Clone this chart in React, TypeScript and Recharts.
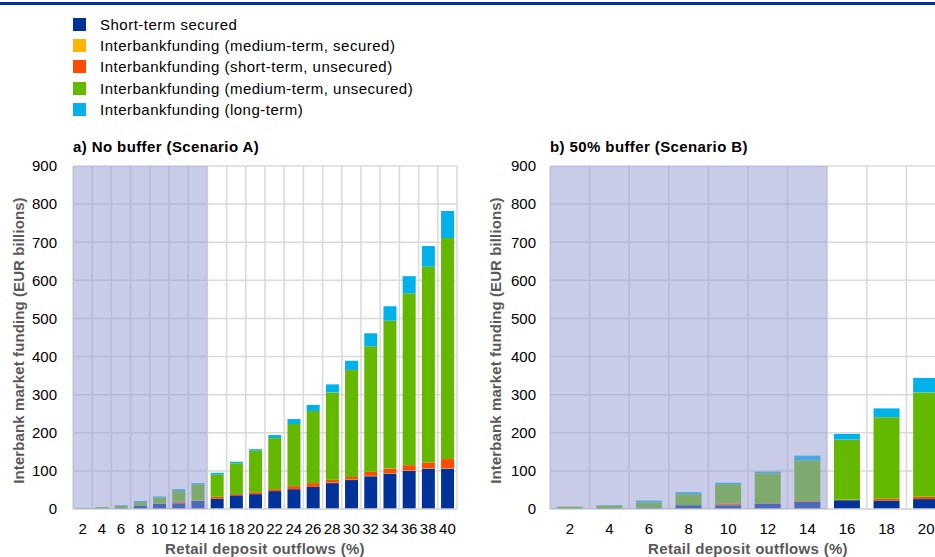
import { BarChart, Bar, XAxis, YAxis, CartesianGrid, ReferenceArea, Legend } from 'recharts'

// Retail deposit outflows (%), x categories
const outflowsA = [2, 4, 6, 8, 10, 12, 14, 16, 18, 20, 22, 24, 26, 28, 30, 32, 34, 36, 38, 40]
const outflowsB = [2, 4, 6, 8, 10, 12, 14, 16, 18, 20]

// a) No buffer (Scenario A), EUR billions
const shortSecuredA = [1, 1, 4, 9, 14, 15, 21, 27, 36, 39, 47, 52, 58, 68, 76, 86, 93, 100, 106, 106]
const mediumSecuredA = [0, 0, 0, 0, 0, 0, 0, 0, 0, 0, 0, 0, 0, 1, 1, 1, 1, 1, 1, 1]
const shortUnsecuredA = [0, 0, 0, 0, 0, 4, 1, 5, 3, 5, 5, 8, 10, 8, 7, 11, 12, 14, 15, 24]
const mediumUnsecuredA = [2, 4, 5, 9, 16, 28, 42, 58, 81, 109, 134, 163, 189, 229, 281, 329, 388, 451, 514, 580]
const longTermA = [0, 0, 1, 3, 3, 5, 4, 5, 4, 4, 8, 13, 16, 21, 24, 34, 38, 45, 54, 71]

// b) 50% buffer (Scenario B), EUR billions
const shortSecuredB = [1, 3, 4, 10, 10, 14, 19, 23, 22, 26]
const mediumSecuredB = [0, 0, 0, 0, 0, 0, 0, 0, 0, 0]
const shortUnsecuredB = [0, 0, 0, 0, 5, 1, 2, 1, 5, 6]
const mediumUnsecuredB = [5, 6, 13, 29, 50, 79, 106, 158, 214, 274]
const longTermB = [0, 1, 5, 5, 4, 4, 13, 15, 23, 38]

const yTicks = [0, 100, 200, 300, 400, 500, 600, 700, 800, 900]

const SERIES = [
  { key: 'shortSecured', name: 'Short-term secured', color: '#003299' },
  { key: 'mediumSecured', name: 'Interbankfunding (medium-term, secured)', color: '#FFB400' },
  { key: 'shortUnsecured', name: 'Interbankfunding (short-term, unsecured)', color: '#FF4B00' },
  { key: 'mediumUnsecured', name: 'Interbankfunding (medium-term, unsecured)', color: '#65B800' },
  { key: 'longTerm', name: 'Interbankfunding (long-term)', color: '#00B1EA' },
]

const dataA = outflowsA.map((x, i) => ({
  x,
  shortSecured: shortSecuredA[i],
  mediumSecured: mediumSecuredA[i],
  shortUnsecured: shortUnsecuredA[i],
  mediumUnsecured: mediumUnsecuredA[i],
  longTerm: longTermA[i],
}))

const dataB = outflowsB.map((x, i) => ({
  x,
  shortSecured: shortSecuredB[i],
  mediumSecured: mediumSecuredB[i],
  shortUnsecured: shortUnsecuredB[i],
  mediumUnsecured: mediumUnsecuredB[i],
  longTerm: longTermB[i],
}))

const FONT = '"Liberation Sans", Arial, sans-serif'
const LABEL_GREY = '#595959'
const GRID = '#d9d9d9'

const seriesIndex = (name: string) => SERIES.findIndex((s) => s.name === name)

function renderLegend(props: any) {
  // keep the series order (bottom of stack first), not alphabetical
  const items = [...(props.payload || [])].sort((a: any, b: any) => seriesIndex(a.value) - seriesIndex(b.value))
  return (
    <div>
      {items.map((p: any) => (
        <div key={p.value} style={{ display: 'flex', alignItems: 'center', height: 21.3, fontSize: 15, letterSpacing: 0.5, color: '#000', whiteSpace: 'nowrap' }}>
          <span style={{ width: 13, height: 13, background: p.color, marginRight: 14, flexShrink: 0 }} />
          <span>{p.value}</span>
        </div>
      ))}
    </div>
  )
}

const yLabel = (x: number, fallbackCy: number) => (props: any) => {
  const vb = props.viewBox || {}
  const cy = vb.y !== undefined ? vb.y + vb.height / 2 + 3 : fallbackCy
  return (
    <text
      x={x}
      y={cy}
      transform={`rotate(-90 ${x} ${cy})`}
      textAnchor="middle"
      fontSize={15}
      fontWeight="bold"
      fill={LABEL_GREY}
      letterSpacing={0.1}
    >
      Interbank market funding (EUR billions)
    </text>
  )
}

const xLabel = (props: any) => {
  const vb = props.viewBox || {}
  return (
    <text
      x={vb.x + vb.width / 2}
      y={vb.y + vb.height - 3}
      textAnchor="middle"
      fontSize={15}
      fontWeight="bold"
      fill={LABEL_GREY}
      letterSpacing={0.3}
    >
      Retail deposit outflows (%)
    </text>
  )
}

const boundaryLines = (n: number) => ({ offset }: any) =>
  Array.from({ length: n + 1 }, (_, i) => offset.left + (i * offset.width) / n)

function Panel({ data, width, yAxisWidth, tickMargin, labelX, legend }: any) {
  return (
    <BarChart
      width={width}
      height={557}
      data={data}
      margin={{ top: 166, right: width === 470 ? 13 : 0, left: 0, bottom: 0 }}
      barCategoryGap="17%"
    >
      <CartesianGrid stroke={GRID} strokeWidth={1.5} verticalCoordinatesGenerator={boundaryLines(data.length)} />
      <XAxis
        dataKey="x"
        type="category"
        interval={0}
        height={48}
        tickLine={false}
        axisLine={{ stroke: GRID, strokeWidth: 1.5 }}
        tickSize={6}
        tickMargin={8}
        tick={{ fontSize: 15, fill: '#000' }}
        label={{ content: xLabel }}
      />
      <YAxis
        domain={[0, 900]}
        ticks={yTicks}
        interval={0}
        width={yAxisWidth}
        tickLine={false}
        axisLine={false}
        tickSize={6}
        tickMargin={tickMargin}
        tick={{ fontSize: 15, fill: '#000' }}
        label={{ content: yLabel(labelX, 340) }}
      />
      {legend && (
        <Legend
          layout="horizontal"
          verticalAlign="middle"
          align="center"
          content={renderLegend}
          wrapperStyle={{ top: 13.5, left: 73, width: 420 }}
        />
      )}
      {SERIES.map((s) => (
        <Bar key={s.key} dataKey={s.key} name={s.name} stackId="a" fill={s.color} isAnimationActive={false} />
      ))}
      <ReferenceArea x1={2} x2={14} fill="rgb(150,158,210)" fillOpacity={0.52} stroke="none" ifOverflow="visible" zIndex={1500} />
    </BarChart>
  )
}

export default function App() {
  return (
    <div style={{ position: 'absolute', left: 0, top: 0, width: 935, height: 557, overflow: 'hidden', background: '#fff', fontFamily: FONT }}>
      <div style={{ position: 'absolute', left: 0, top: 2, width: 935, height: 2.5, background: '#003299' }} />

      <div style={{ position: 'absolute', left: 0, top: 0 }}>
        <Panel data={dataA} width={470} yAxisWidth={73} tickMargin={10} labelX={24} legend />
      </div>
      <div style={{ position: 'absolute', left: 470, top: 0 }}>
        <Panel data={dataB} width={476} yAxisWidth={80} tickMargin={8} labelX={31} legend={false} />
      </div>

      <div style={{ position: 'absolute', left: 73, top: 139, fontSize: 15, lineHeight: '15px', fontWeight: 'bold', letterSpacing: 0.4, color: '#000', whiteSpace: 'nowrap' }}>
        a) No buffer (Scenario A)
      </div>
      <div style={{ position: 'absolute', left: 550, top: 139, fontSize: 15, lineHeight: '15px', fontWeight: 'bold', letterSpacing: 0.4, color: '#000', whiteSpace: 'nowrap' }}>
        b) 50% buffer (Scenario B)
      </div>
    </div>
  )
}
